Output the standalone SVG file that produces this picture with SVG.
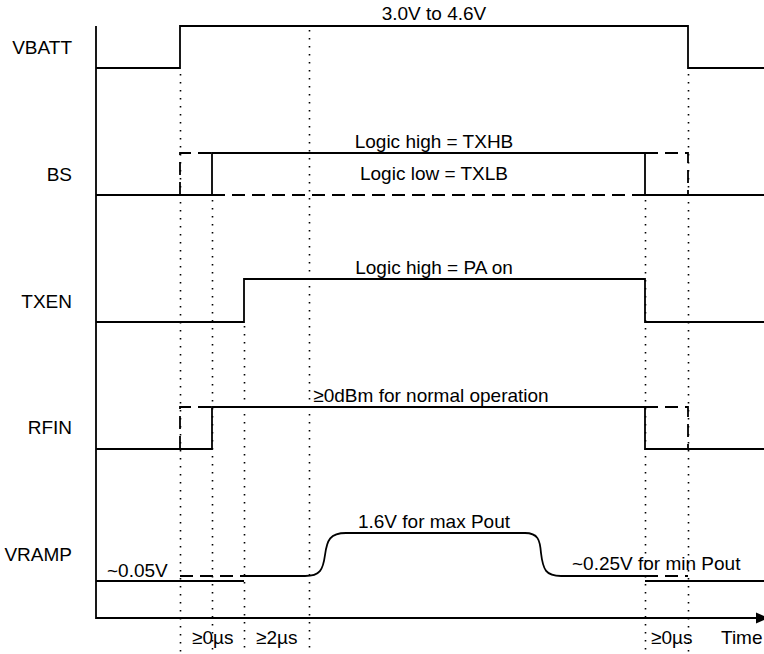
<svg xmlns="http://www.w3.org/2000/svg" width="764" height="654" viewBox="0 0 764 654">
<style>
.sig{fill:none;stroke:#000;stroke-width:1.8;stroke-linejoin:miter}
.dash{fill:none;stroke:#000;stroke-width:1.8;stroke-dasharray:13 7}
.dot{fill:none;stroke:#000;stroke-width:1.6;stroke-dasharray:1.6 6.4}
.lbl{font-family:"Liberation Sans",Arial,sans-serif;font-size:19px;fill:#000}
.ann{font-family:"Liberation Sans",Arial,sans-serif;font-size:19px;fill:#000;text-anchor:middle}
</style>
<rect width="764" height="654" fill="#fff"/>
<g id="timing-markers">
<path class="dot" d="M180.5,74V654M212.5,200V654M244.5,326V654M309.5,30V654M645.5,200V654M688.5,74V654"/>
</g>
<g id="axes">
<path class="sig" d="M96,26V618H758"/>
<polygon points="756,612.5 769,618 756,623.5" fill="#000"/>
<text class="lbl" x="721" y="644">Time</text>
</g>
<g id="vbatt">
<text class="lbl" x="72" y="54" text-anchor="end">VBATT</text>
<path class="sig" d="M96,68H180V26H688V68H764"/>
<text class="ann" x="434" y="20">3.0V to 4.6V</text>
</g>
<g id="bs">
<text class="lbl" x="72" y="181" text-anchor="end">BS</text>
<path class="sig" d="M96,195H212V153H645V195H764"/>
<path class="dash" d="M180,195V153H212M212,195H645M645,153H688V195"/>
<text class="ann" x="434" y="148">Logic high = TXHB</text>
<text class="ann" x="434" y="180">Logic low = TXLB</text>
</g>
<g id="txen">
<text class="lbl" x="72" y="308" text-anchor="end">TXEN</text>
<path class="sig" d="M96,322H244V279H645V322H764"/>
<text class="ann" x="434" y="274">Logic high = PA on</text>
</g>
<g id="rfin">
<text class="lbl" x="72" y="434" text-anchor="end">RFIN</text>
<path class="sig" d="M96,449H212V407H645V449H764"/>
<path class="dash" d="M180,449V407H212M645,407H688V449"/>
<text class="ann" x="431" y="402">≥0dBm for normal operation</text>
</g>
<g id="vramp">
<text class="lbl" x="72" y="561" text-anchor="end">VRAMP</text>
<path class="sig" d="M96,581H244"/>
<path class="dash" d="M180,576H244"/>
<path class="sig" d="M244,576H305C320,576 323,570 325,555C327,540 330,533 346,533H525C538,533 540,540 541,553C543,570 546,576 561,576H645"/>
<path class="dash" d="M645,576H688"/>
<path class="sig" d="M645,581H764"/>
<text class="lbl" x="107" y="577">~0.05V</text>
<text class="ann" x="434" y="528">1.6V for max Pout</text>
<text class="lbl" x="572" y="570">~0.25V for min Pout</text>
<text class="lbl" x="192" y="644">≥0µs</text>
<text class="lbl" x="256" y="644">≥2µs</text>
<text class="lbl" x="651" y="644">≥0µs</text>
</g>
</svg>
